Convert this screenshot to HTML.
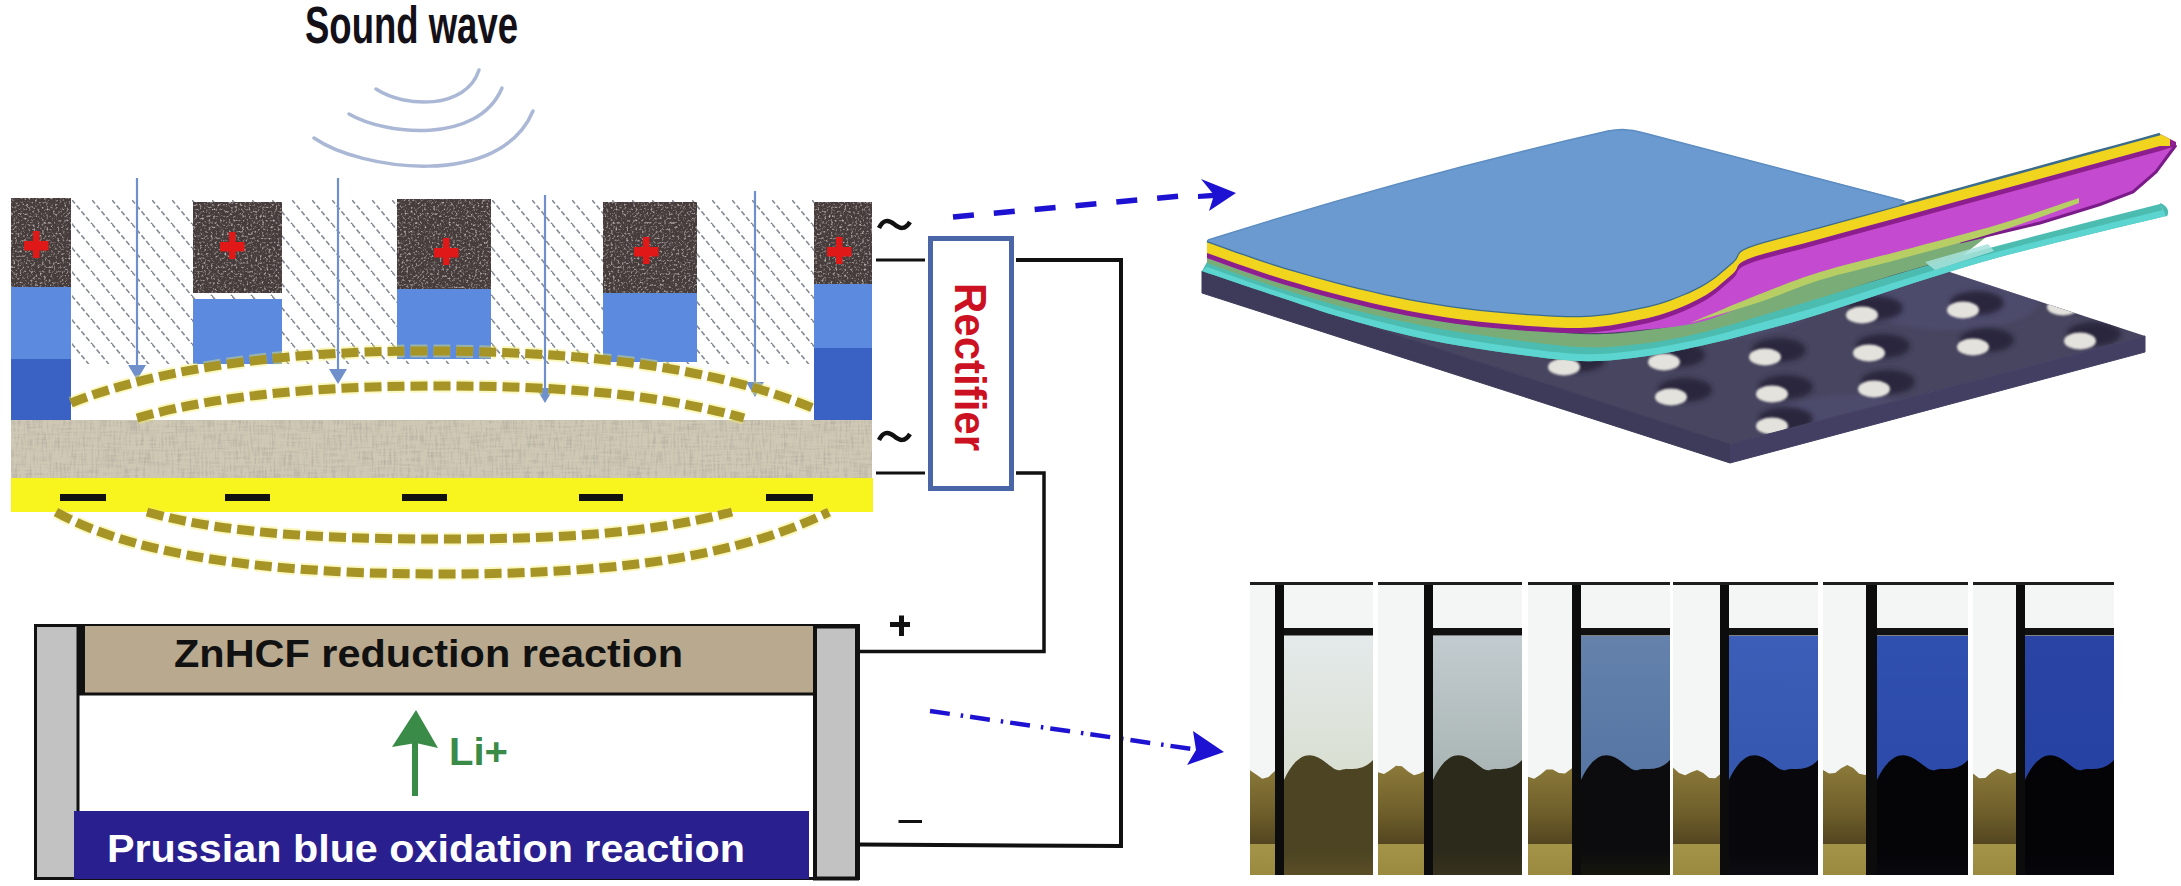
<!DOCTYPE html>
<html><head><meta charset="utf-8"><style>
html,body{margin:0;padding:0;background:#fff;}
body{width:2181px;height:886px;overflow:hidden;}
svg{display:block;}
</style></head><body>
<svg width="2181" height="886" viewBox="0 0 2181 886">
<defs>
<pattern id="hatch" patternUnits="userSpaceOnUse" width="20" height="24" patternTransform="translate(72,200)">
  <path d="M-5,-6 L25,30" stroke="#868c96" stroke-width="1.6" stroke-dasharray="5 2.5"/>
  <path d="M-25,-6 L5,30" stroke="#868c96" stroke-width="1.6" stroke-dasharray="5 2.5"/>
</pattern>
<filter id="fabn" x="0" y="0" width="100%" height="100%">
  <feTurbulence type="fractalNoise" baseFrequency="0.5 0.06" numOctaves="2" seed="11" result="v"/>
  <feTurbulence type="fractalNoise" baseFrequency="0.04 0.5" numOctaves="2" seed="5" result="h"/>
  <feComposite in="v" in2="h" operator="arithmetic" k1="0" k2="0.6" k3="0.4" k4="0" result="m"/>
  <feColorMatrix in="m" type="matrix" values="0 0 0 0 0.45  0 0 0 0 0.42  0 0 0 0 0.36  0 0 0 2.6 -1.15"/>
  <feComposite in2="SourceGraphic" operator="in"/>
</filter>
<filter id="noise" x="0" y="0" width="100%" height="100%">
  <feTurbulence type="fractalNoise" baseFrequency="0.45" numOctaves="2" seed="7" result="n"/>
  <feColorMatrix in="n" type="matrix" values="0 0 0 0 0.5  0 0 0 0 0.45  0 0 0 0 0.45  0 0 0 3.0 -1.55" result="c"/>
  <feComposite in="c" in2="SourceGraphic" operator="in"/>
</filter>
<filter id="soft"><feGaussianBlur stdDeviation="0.6"/></filter>
</defs>
<text x="305" y="43" font-family="Liberation Sans, sans-serif" font-weight="bold" font-size="51" fill="#141018" textLength="213" lengthAdjust="spacingAndGlyphs">Sound wave</text>
<path d="M376,89 C405,108 466,110 479,70" stroke="#aab8d6" stroke-width="3.5" fill="none" stroke-linecap="round" filter="url(#soft)"/>
<path d="M349,114 C385,135 478,145 502,88" stroke="#aab8d6" stroke-width="3.5" fill="none" stroke-linecap="round" filter="url(#soft)"/>
<path d="M314,138 C360,170 500,190 533,111" stroke="#aab8d6" stroke-width="3.5" fill="none" stroke-linecap="round" filter="url(#soft)"/>
<rect x="72" y="200" width="742" height="164" fill="url(#hatch)"/>
<rect x="11" y="198" width="60" height="89" fill="#463c3c"/>
<rect x="11" y="198" width="60" height="89" fill="#000" filter="url(#noise)"/>
<rect x="11" y="287" width="60" height="72" fill="#5c8ade"/>
<rect x="11" y="359" width="60" height="61" fill="#3a62c4"/>
<rect x="33" y="231" width="6.5" height="27" fill="#e01818"/>
<rect x="24" y="241" width="24.5" height="9.5" fill="#e01818"/>
<rect x="193" y="202" width="89" height="91" fill="#463c3c"/>
<rect x="193" y="202" width="89" height="91" fill="#000" filter="url(#noise)"/>
<rect x="193" y="299" width="89" height="65" fill="#5c8ade"/>
<rect x="229" y="232" width="6.5" height="27" fill="#e01818"/>
<rect x="220" y="242" width="24.5" height="9.5" fill="#e01818"/>
<rect x="397" y="199" width="94" height="90" fill="#463c3c"/>
<rect x="397" y="199" width="94" height="90" fill="#000" filter="url(#noise)"/>
<rect x="397" y="289" width="94" height="70" fill="#5c8ade"/>
<rect x="443" y="238" width="6.5" height="27" fill="#e01818"/>
<rect x="434" y="248" width="24.5" height="9.5" fill="#e01818"/>
<rect x="603" y="202" width="94" height="91" fill="#463c3c"/>
<rect x="603" y="202" width="94" height="91" fill="#000" filter="url(#noise)"/>
<rect x="603" y="293" width="94" height="69" fill="#5c8ade"/>
<rect x="643" y="237" width="6.5" height="27" fill="#e01818"/>
<rect x="634" y="247" width="24.5" height="9.5" fill="#e01818"/>
<rect x="814" y="202" width="58" height="82" fill="#463c3c"/>
<rect x="814" y="202" width="58" height="82" fill="#000" filter="url(#noise)"/>
<rect x="814" y="284" width="58" height="64" fill="#5c8ade"/>
<rect x="814" y="348" width="58" height="72" fill="#3a62c4"/>
<rect x="836" y="237" width="6.5" height="27" fill="#e01818"/>
<rect x="827" y="247" width="24.5" height="9.5" fill="#e01818"/>
<line x1="137" y1="178" x2="137" y2="368" stroke="#7090cc" stroke-width="2.2"/>
<path d="M128,365 L146,365 L137,380 Z" fill="#7090cc"/>
<line x1="338" y1="178" x2="338" y2="372" stroke="#7090cc" stroke-width="2.2"/>
<path d="M329,369 L347,369 L338,384 Z" fill="#7090cc"/>
<line x1="545" y1="195" x2="545" y2="391" stroke="#7090cc" stroke-width="2.2"/>
<path d="M536,388 L554,388 L545,403 Z" fill="#7090cc"/>
<line x1="755" y1="191" x2="755" y2="385" stroke="#7090cc" stroke-width="2.2"/>
<path d="M746,382 L764,382 L755,397 Z" fill="#7090cc"/>
<rect x="11" y="420" width="861" height="58" fill="#cfc8b4"/><rect x="11" y="420" width="861" height="58" fill="#000" filter="url(#fabn)"/>
<rect x="11" y="478" width="862" height="34" fill="#f8f41e"/>
<rect x="60" y="494" width="46" height="7" fill="#111"/>
<rect x="225" y="494" width="45" height="7" fill="#111"/>
<rect x="402" y="494" width="45" height="7" fill="#111"/>
<rect x="579" y="494" width="44" height="7" fill="#111"/>
<rect x="766" y="494" width="47" height="7" fill="#111"/>
<path d="M71,403 C180,360 330,350 440,351 C560,352 700,362 813,408" stroke="#f4ee60" stroke-width="13" fill="none" stroke-dasharray="17 6" opacity="0.4"/>
<path d="M71,403 C180,360 330,350 440,351 C560,352 700,362 813,408" stroke="#a69526" stroke-width="9" fill="none" stroke-dasharray="17 6"/>
<path d="M137,418 C230,392 340,386 440,386 C550,386 650,392 744,418" stroke="#f4ee60" stroke-width="13" fill="none" stroke-dasharray="17 6" opacity="0.4"/>
<path d="M137,418 C230,392 340,386 440,386 C550,386 650,392 744,418" stroke="#a69526" stroke-width="9" fill="none" stroke-dasharray="17 6"/>
<path d="M147,512 C230,536 350,539 440,539 C540,539 640,536 732,512" stroke="#f4ee60" stroke-width="13" fill="none" stroke-dasharray="17 6" opacity="0.4"/>
<path d="M147,512 C230,536 350,539 440,539 C540,539 640,536 732,512" stroke="#a69526" stroke-width="9" fill="none" stroke-dasharray="17 6"/>
<path d="M56,512 C150,565 320,574 440,574 C580,574 720,565 829,512" stroke="#f4ee60" stroke-width="13" fill="none" stroke-dasharray="17 6" opacity="0.4"/>
<path d="M56,512 C150,565 320,574 440,574 C580,574 720,565 829,512" stroke="#a69526" stroke-width="9" fill="none" stroke-dasharray="17 6"/>
<path d="M879,228 C883,220 888,219 894,224 C900,229 905,230 910,222" stroke="#111" stroke-width="4.5" fill="none"/>
<path d="M879,440 C883,432 888,431 894,436 C900,441 905,442 910,434" stroke="#111" stroke-width="4.5" fill="none"/>
<polyline points="876,260 925,260" stroke="#111" stroke-width="3" fill="none"/>
<polyline points="1016,260 1121,260 1121,846 860,844.5" stroke="#111" stroke-width="4" fill="none"/>
<polyline points="876,473 925,473" stroke="#111" stroke-width="3" fill="none"/>
<polyline points="1016,473 1044,473 1044,651.5 860,651.5" stroke="#111" stroke-width="3.5" fill="none"/>
<rect x="930.5" y="238.5" width="81" height="250" fill="#fff" stroke="#4a66a6" stroke-width="5"/>
<text font-family="Liberation Sans, sans-serif" font-weight="bold" font-size="44" fill="#cc1122" transform="translate(955,283) rotate(90)" textLength="168" lengthAdjust="spacingAndGlyphs">Rectifier</text>
<path d="M953,217 L1198,194.5" stroke="#1e12d2" stroke-width="5.5" fill="none" stroke-dasharray="21 20"/>
<path d="M1201,179 L1236,193 L1209,211 L1214,195 Z" fill="#1e12d2"/><path d="M1198,194 L1216,192.5 L1216,198 L1198,199 Z" fill="#1e12d2"/>
<path d="M930,711 L1192,749" stroke="#1e12d2" stroke-width="4.5" fill="none" stroke-dasharray="20 11 2.5 7"/>
<path d="M1193,731 L1224,752 L1187,765 L1196,750 Z" fill="#1e12d2"/>
<rect x="1119" y="690" width="4" height="80" fill="#111"/>
<rect x="35.5" y="625.5" width="823" height="253" fill="#fff" stroke="#111" stroke-width="3"/>
<rect x="37" y="627" width="41" height="250" fill="#c2c2c2"/>
<rect x="79" y="626" width="734" height="68" fill="#b9a98f"/>
<rect x="79" y="626" width="6" height="68" fill="#111"/>
<line x1="79" y1="694" x2="813" y2="694" stroke="#111" stroke-width="3"/>
<line x1="78" y1="626" x2="78" y2="811" stroke="#111" stroke-width="3"/>
<rect x="74" y="811" width="735" height="68" fill="#2a1f8e"/>
<rect x="815" y="626.5" width="42" height="252" fill="#c2c2c2" stroke="#111" stroke-width="4"/>
<text x="174" y="667" font-family="Liberation Sans, sans-serif" font-weight="bold" font-size="38" fill="#111" textLength="509" lengthAdjust="spacingAndGlyphs">ZnHCF reduction reaction</text>
<text x="107" y="862" font-family="Liberation Sans, sans-serif" font-weight="bold" font-size="39" fill="#fff" textLength="638" lengthAdjust="spacingAndGlyphs">Prussian blue oxidation reaction</text>
<rect x="412" y="740" width="6" height="56" fill="#3a8a48"/>
<path d="M416,710 L438,748 L416,743 L392,747 Z" fill="#3a8a48"/>
<text x="449" y="765" font-family="Liberation Sans, sans-serif" font-weight="bold" font-size="38" fill="#3a8a48" textLength="59" lengthAdjust="spacingAndGlyphs">Li+</text>
<rect x="890" y="622" width="20" height="5" fill="#111"/><rect x="899" y="615.5" width="5" height="20.5" fill="#111"/>
<rect x="898.5" y="820" width="23.5" height="3" fill="#111"/>
<defs><filter id="blur2" x="-30%" y="-30%" width="160%" height="160%"><feGaussianBlur stdDeviation="2.5"/></filter><filter id="blur1" x="-30%" y="-30%" width="160%" height="160%"><feGaussianBlur stdDeviation="1.2"/></filter><clipPath id="slabclip"><polygon points="1202,271 1730,444 2145,336 1617,163"/></clipPath></defs>
<polygon points="1202,271 1730,444 2145,336 1617,163" fill="#47455f"/>
<g clip-path="url(#slabclip)"><ellipse cx="1700" cy="300" rx="120" ry="40" fill="#55537a" opacity="0.5" filter="url(#blur2)"/><ellipse cx="1950" cy="300" rx="90" ry="30" fill="#55537a" opacity="0.5" filter="url(#blur2)"/><ellipse cx="1850" cy="420" rx="80" ry="25" fill="#55537a" opacity="0.5" filter="url(#blur2)"/><ellipse cx="1578" cy="360" rx="27" ry="12" fill="#2a283e" filter="url(#blur2)"/><ellipse cx="1678" cy="355" rx="27" ry="12" fill="#2a283e" filter="url(#blur2)"/><ellipse cx="1779" cy="350" rx="27" ry="12" fill="#2a283e" filter="url(#blur2)"/><ellipse cx="1883" cy="346" rx="27" ry="12" fill="#2a283e" filter="url(#blur2)"/><ellipse cx="1987" cy="340" rx="27" ry="12" fill="#2a283e" filter="url(#blur2)"/><ellipse cx="2094" cy="334" rx="27" ry="12" fill="#2a283e" filter="url(#blur2)"/><ellipse cx="1685" cy="390" rx="27" ry="12" fill="#2a283e" filter="url(#blur2)"/><ellipse cx="1786" cy="387" rx="27" ry="12" fill="#2a283e" filter="url(#blur2)"/><ellipse cx="1888" cy="382" rx="27" ry="12" fill="#2a283e" filter="url(#blur2)"/><ellipse cx="1786" cy="419" rx="27" ry="12" fill="#2a283e" filter="url(#blur2)"/><ellipse cx="1876" cy="308" rx="27" ry="12" fill="#2a283e" filter="url(#blur2)"/><ellipse cx="1977" cy="303" rx="27" ry="12" fill="#2a283e" filter="url(#blur2)"/><ellipse cx="2077" cy="300" rx="27" ry="12" fill="#2a283e" filter="url(#blur2)"/><ellipse cx="1564" cy="367" rx="16" ry="8.5" fill="#e4e2dc" filter="url(#blur1)"/><ellipse cx="1664" cy="362" rx="16" ry="8.5" fill="#e4e2dc" filter="url(#blur1)"/><ellipse cx="1765" cy="357" rx="16" ry="8.5" fill="#e4e2dc" filter="url(#blur1)"/><ellipse cx="1869" cy="353" rx="16" ry="8.5" fill="#e4e2dc" filter="url(#blur1)"/><ellipse cx="1973" cy="347" rx="16" ry="8.5" fill="#e4e2dc" filter="url(#blur1)"/><ellipse cx="2080" cy="341" rx="16" ry="8.5" fill="#e4e2dc" filter="url(#blur1)"/><ellipse cx="1671" cy="397" rx="16" ry="8.5" fill="#e4e2dc" filter="url(#blur1)"/><ellipse cx="1772" cy="394" rx="16" ry="8.5" fill="#e4e2dc" filter="url(#blur1)"/><ellipse cx="1874" cy="389" rx="16" ry="8.5" fill="#e4e2dc" filter="url(#blur1)"/><ellipse cx="1772" cy="426" rx="16" ry="8.5" fill="#e4e2dc" filter="url(#blur1)"/><ellipse cx="1862" cy="315" rx="16" ry="8.5" fill="#e4e2dc" filter="url(#blur1)"/><ellipse cx="1963" cy="310" rx="16" ry="8.5" fill="#e4e2dc" filter="url(#blur1)"/><ellipse cx="2063" cy="307" rx="16" ry="8.5" fill="#e4e2dc" filter="url(#blur1)"/></g>
<polygon points="1202,271 1730,444 1730,463 1202,293" fill="#3d3b59" stroke="#3d3b59" stroke-width="1"/>
<polygon points="1730,444 2145,336 2145,352 1730,463" fill="#423f62" stroke="#423f62" stroke-width="1"/>
<polygon points="1207.0,262.0 1212.0,263.8 1218.7,266.2 1226.6,269.0 1235.4,272.1 1244.8,275.4 1254.4,278.8 1263.9,282.0 1273.0,285.0 1281.9,287.8 1291.0,290.7 1300.2,293.5 1309.6,296.4 1319.0,299.2 1328.4,301.9 1337.7,304.5 1347.0,307.0 1356.2,309.4 1365.3,311.7 1374.4,314.0 1383.6,316.1 1392.7,318.2 1401.8,320.2 1410.9,322.1 1420.0,324.0 1429.0,325.8 1437.9,327.4 1446.8,329.0 1455.6,330.4 1464.6,331.9 1473.8,333.3 1483.2,334.6 1493.0,336.0 1503.4,337.4 1514.4,338.9 1525.8,340.5 1537.3,341.9 1548.7,343.3 1559.8,344.5 1570.3,345.4 1580.0,346.0 1588.8,346.3 1596.9,346.4 1604.5,346.2 1611.7,345.8 1618.7,345.3 1625.6,344.6 1632.7,343.8 1640.0,343.0 1647.5,342.0 1655.0,341.0 1662.5,339.7 1670.0,338.4 1677.5,336.9 1685.0,335.4 1692.5,333.7 1700.0,332.0 1707.5,330.2 1715.0,328.2 1722.5,326.1 1730.0,323.9 1737.5,321.7 1745.0,319.5 1752.5,317.2 1760.0,315.0 1766.8,313.0 1772.6,311.2 1778.0,309.6 1783.6,307.9 1790.0,305.9 1797.8,303.6 1807.6,300.6 1820.0,297.0 1835.3,292.5 1853.0,287.3 1872.6,281.5 1893.6,275.2 1915.6,268.8 1938.0,262.4 1960.3,256.0 1982.0,250.0 2004.7,243.9 2029.5,237.4 2055.4,230.7 2081.1,224.1 2105.6,217.8 2127.6,212.2 2146.2,207.5 2160,204 2166,216 2151.7,219.5 2132.4,224.1 2109.5,229.6 2084.1,235.8 2057.5,242.3 2030.8,249.0 2005.2,255.6 1982.0,262.0 1960.0,268.5 1937.6,275.4 1915.2,282.6 1893.2,289.8 1872.3,296.8 1852.8,303.3 1835.2,309.1 1820.0,314.0 1807.6,317.8 1797.8,320.8 1790.0,323.0 1783.6,324.8 1778.0,326.3 1772.6,327.7 1766.8,329.2 1760.0,331.0 1752.5,333.0 1745.0,335.0 1737.5,336.9 1730.0,338.9 1722.5,340.8 1715.0,342.6 1707.5,344.3 1700.0,346.0 1692.5,347.6 1685.0,349.2 1677.5,350.7 1670.0,352.2 1662.5,353.6 1655.0,354.8 1647.5,356.0 1640.0,357.0 1632.7,357.9 1625.6,358.8 1618.7,359.6 1611.7,360.3 1604.5,360.8 1596.9,361.1 1588.8,361.2 1580.0,361.0 1570.3,360.4 1559.8,359.6 1548.7,358.4 1537.3,357.1 1525.8,355.6 1514.4,354.0 1503.4,352.5 1493.0,351.0 1483.2,349.6 1473.8,348.1 1464.6,346.6 1455.6,345.1 1446.8,343.4 1437.9,341.7 1429.0,339.9 1420.0,338.0 1410.9,335.9 1401.8,333.8 1392.7,331.5 1383.6,329.2 1374.4,326.8 1365.3,324.2 1356.2,321.7 1347.0,319.0 1337.8,316.2 1328.5,313.4 1319.2,310.4 1309.9,307.3 1300.6,304.2 1291.3,301.1 1282.1,298.0 1273.0,295.0 1263.5,291.8 1253.4,288.4 1243.0,284.9 1232.9,281.5 1223.3,278.2 1214.7,275.3 1207.5,272.9 1202.0,271.0" fill="#4cbcb0" />
<polygon points="1207.0,267.0 1212.0,268.8 1218.7,271.1 1226.6,273.9 1235.4,277.1 1244.8,280.4 1254.4,283.7 1263.9,287.0 1273.0,290.0 1281.9,292.9 1291.0,295.9 1300.2,298.8 1309.6,301.8 1319.0,304.7 1328.4,307.6 1337.7,310.4 1347.0,313.0 1356.2,315.5 1365.3,318.0 1374.4,320.3 1383.6,322.6 1392.7,324.8 1401.8,327.0 1410.9,329.0 1420.0,331.0 1429.0,332.9 1437.9,334.7 1446.8,336.4 1455.6,338.0 1464.6,339.6 1473.8,341.1 1483.2,342.6 1493.0,344.0 1503.4,345.5 1514.4,347.0 1525.8,348.6 1537.3,350.1 1548.7,351.4 1559.8,352.6 1570.3,353.4 1580.0,354.0 1588.8,354.2 1596.9,354.1 1604.5,353.8 1611.7,353.3 1618.7,352.6 1625.6,351.8 1632.7,350.9 1640.0,350.0 1647.5,349.0 1655.0,347.9 1662.5,346.6 1670.0,345.2 1677.5,343.8 1685.0,342.3 1692.5,340.7 1700.0,339.0 1707.5,337.2 1715.0,335.4 1722.5,333.4 1730.0,331.4 1737.5,329.3 1745.0,327.2 1752.5,325.1 1760.0,323.0 1766.8,321.1 1772.6,319.6 1778.0,318.1 1783.6,316.6 1790.0,314.8 1797.8,312.6 1807.6,309.7 1820.0,306.0 1835.2,301.3 1852.9,295.7 1872.4,289.5 1893.4,282.8 1915.4,275.9 1937.8,269.0 1960.1,262.3 1982.0,256.0 2005.0,249.7 2030.2,243.1 2056.4,236.4 2082.6,229.9 2107.5,223.7 2130.0,218.2 2148.9,213.5 2163,210 2166,216 2151.7,219.5 2132.4,224.1 2109.5,229.6 2084.1,235.8 2057.5,242.3 2030.8,249.0 2005.2,255.6 1982.0,262.0 1960.0,268.5 1937.6,275.4 1915.2,282.6 1893.2,289.8 1872.3,296.8 1852.8,303.3 1835.2,309.1 1820.0,314.0 1807.6,317.8 1797.8,320.8 1790.0,323.0 1783.6,324.8 1778.0,326.3 1772.6,327.7 1766.8,329.2 1760.0,331.0 1752.5,333.0 1745.0,335.0 1737.5,336.9 1730.0,338.9 1722.5,340.8 1715.0,342.6 1707.5,344.3 1700.0,346.0 1692.5,347.6 1685.0,349.2 1677.5,350.7 1670.0,352.2 1662.5,353.6 1655.0,354.8 1647.5,356.0 1640.0,357.0 1632.7,357.9 1625.6,358.8 1618.7,359.6 1611.7,360.3 1604.5,360.8 1596.9,361.1 1588.8,361.2 1580.0,361.0 1570.3,360.4 1559.8,359.6 1548.7,358.4 1537.3,357.1 1525.8,355.6 1514.4,354.0 1503.4,352.5 1493.0,351.0 1483.2,349.6 1473.8,348.1 1464.6,346.6 1455.6,345.1 1446.8,343.4 1437.9,341.7 1429.0,339.9 1420.0,338.0 1410.9,335.9 1401.8,333.8 1392.7,331.5 1383.6,329.2 1374.4,326.8 1365.3,324.2 1356.2,321.7 1347.0,319.0 1337.8,316.2 1328.5,313.4 1319.2,310.4 1309.9,307.3 1300.6,304.2 1291.3,301.1 1282.1,298.0 1273.0,295.0 1263.5,291.8 1253.4,288.4 1243.0,284.9 1232.9,281.5 1223.3,278.2 1214.7,275.3 1207.5,272.9 1202.0,271.0" fill="#5cd4d0" />
<path d="M2160,204 Q2170,209 2166,216" fill="#4cbcb0" stroke="#4cbcb0" stroke-width="2"/>
<polygon points="1207.0,257.0 1212.0,258.8 1218.7,261.2 1226.6,264.1 1235.4,267.2 1244.8,270.6 1254.4,273.9 1263.9,277.1 1273.0,280.0 1281.9,282.7 1291.0,285.3 1300.2,287.9 1309.6,290.5 1319.0,293.0 1328.4,295.4 1337.7,297.8 1347.0,300.0 1356.2,302.1 1365.3,304.2 1374.4,306.2 1383.6,308.1 1392.7,310.0 1401.8,311.7 1410.9,313.4 1420.0,315.0 1429.0,316.5 1437.9,317.9 1446.8,319.2 1455.6,320.4 1464.6,321.5 1473.8,322.7 1483.2,323.8 1493.0,325.0 1503.4,326.3 1514.4,327.6 1525.8,329.0 1537.3,330.3 1548.7,331.5 1559.8,332.6 1570.3,333.5 1580.0,334.0 1588.8,334.3 1596.9,334.3 1604.5,334.1 1611.7,333.8 1618.7,333.2 1625.6,332.6 1632.7,331.8 1640.0,331.0 1647.5,330.1 1655.0,329.1 1662.5,327.9 1670.0,326.7 1677.5,325.3 1685.0,323.7 1692.5,322.0 1700.0,320.0 1707.5,317.8 1715.0,315.2 1722.5,312.5 1730.0,309.6 1737.5,306.7 1745.0,303.7 1752.5,300.8 1760.0,298.0 1767.4,295.3 1774.5,292.7 1781.6,290.1 1788.8,287.4 1796.0,284.8 1803.6,282.2 1811.5,279.6 1820.0,277.0 1829.0,274.4 1838.4,271.8 1848.1,269.2 1858.1,266.6 1868.4,263.9 1878.8,261.3 1889.4,258.7 1900.0,256.0 1911.4,253.1 1923.9,250.1 1937.0,246.9 1950.0,243.7 1962.4,240.7 1973.6,238.0 1983.0,235.7 1990,234 1962,256 1957.3,257.3 1951.3,258.9 1944.1,260.8 1936.0,262.9 1927.3,265.3 1918.2,267.8 1909.0,270.4 1900.0,273.0 1890.7,275.8 1880.8,278.9 1870.4,282.1 1859.9,285.4 1849.3,288.8 1839.0,292.1 1829.2,295.2 1820.0,298.0 1811.5,300.6 1803.6,303.0 1796.0,305.3 1788.8,307.5 1781.6,309.6 1774.5,311.7 1767.4,313.8 1760.0,316.0 1752.5,318.2 1745.0,320.5 1737.5,322.7 1730.0,324.9 1722.5,327.1 1715.0,329.2 1707.5,331.2 1700.0,333.0 1692.5,334.7 1685.0,336.4 1677.5,337.9 1670.0,339.4 1662.5,340.7 1655.0,342.0 1647.5,343.0 1640.0,344.0 1632.7,344.8 1625.6,345.6 1618.7,346.3 1611.7,346.8 1604.5,347.2 1596.9,347.4 1588.8,347.3 1580.0,347.0 1570.3,346.4 1559.8,345.5 1548.7,344.3 1537.3,342.9 1525.8,341.5 1514.4,339.9 1503.4,338.4 1493.0,337.0 1483.2,335.6 1473.8,334.3 1464.6,332.9 1455.6,331.4 1446.8,330.0 1437.9,328.4 1429.0,326.8 1420.0,325.0 1410.9,323.1 1401.8,321.2 1392.7,319.2 1383.6,317.1 1374.4,315.0 1365.3,312.7 1356.2,310.4 1347.0,308.0 1337.7,305.5 1328.4,302.9 1319.0,300.2 1309.6,297.4 1300.2,294.5 1291.0,291.7 1281.9,288.8 1273.0,286.0 1263.9,283.0 1254.4,279.8 1244.8,276.4 1235.4,273.1 1226.6,270.0 1218.7,267.2 1212.0,264.8 1207.0,263.0" fill="#7aac78" />
<polygon points="1925,262 1988,244 1994,251 1935,270" fill="#a6e2da" opacity="0.85"/>
<polygon points="1207.0,241.0 1214.1,243.5 1223.8,247.0 1235.4,251.2 1248.0,255.6 1260.8,260.0 1273.0,264.0 1284.9,267.7 1297.1,271.3 1309.6,274.9 1322.1,278.4 1334.6,281.8 1347.0,285.0 1359.2,288.0 1371.4,290.9 1383.6,293.7 1395.7,296.3 1407.8,298.7 1420.0,301.0 1432.0,303.1 1443.8,305.0 1455.6,306.7 1467.6,308.3 1480.0,309.7 1493.0,311.0 1507.1,312.3 1522.2,313.5 1537.7,314.6 1552.9,315.4 1567.2,315.9 1580.0,316.0 1591.1,315.6 1601.1,314.6 1610.2,313.4 1618.6,312.0 1626.4,310.5 1634.0,309.0 1641.0,307.6 1647.3,306.3 1653.1,304.8 1658.7,303.3 1664.2,301.5 1670.0,299.5 1676.1,297.2 1682.3,294.7 1688.6,292.0 1694.7,289.1 1700.5,286.1 1706.0,283.0 1711.2,279.6 1716.1,275.9 1720.8,272.1 1725.2,268.3 1729.3,264.7 1733.0,261.5 1735.5,258.7 1736.8,256.4 1737.7,254.2 1739.2,252.0 1742.3,249.7 1748.0,247.0 1755.6,244.3 1764.1,241.7 1774.3,239.0 1786.6,235.8 1801.7,231.9 1820.0,227.0 1842.7,220.8 1869.4,213.5 1898.9,205.4 1929.7,197.0 1960.5,188.6 1990.0,180.5 2020.3,172.2 2053.0,163.3 2085.6,154.3 2115.9,146.1 2141.5,139.1 2160,134 2176,145 2175.6,145.5 2175.1,146.2 2174.5,146.9 2173.9,147.8 2173.1,148.8 2172.2,150.0 2171.2,151.4 2170.0,153.0 2168.7,154.8 2167.3,157.0 2165.7,159.3 2164.1,161.8 2162.3,164.3 2160.3,166.9 2158.2,169.5 2156.0,172.0 2153.6,174.5 2151.1,177.1 2148.5,179.8 2145.7,182.4 2142.8,185.0 2139.7,187.5 2136.4,189.9 2133.0,192.0 2129.3,194.0 2125.2,195.8 2120.8,197.5 2116.4,199.1 2111.9,200.6 2107.6,202.0 2103.6,203.3 2100.0,204.5 2096.9,205.6 2094.3,206.4 2092.0,207.1 2089.9,207.8 2087.7,208.4 2085.2,209.1 2082.4,210.0 2079.0,211.0 2075.1,212.2 2071.0,213.6 2066.5,215.0 2061.8,216.5 2056.8,218.1 2051.5,219.7 2045.9,221.4 2040.0,223.0 2033.8,224.6 2027.4,226.2 2020.7,227.8 2013.7,229.4 2006.3,231.1 1998.6,233.0 1990.5,234.9 1982.0,237.0 1972.9,239.3 1963.1,241.8 1952.9,244.4 1942.4,247.1 1931.7,249.8 1920.9,252.6 1910.3,255.3 1900.0,258.0 1889.8,260.6 1879.4,263.2 1869.0,265.9 1858.6,268.5 1848.4,271.1 1838.5,273.8 1829.0,276.4 1820.0,279.0 1811.5,281.6 1803.6,284.2 1796.0,286.8 1788.8,289.4 1781.6,292.1 1774.5,294.7 1767.4,297.3 1760.0,300.0 1752.5,302.8 1745.0,305.8 1737.5,308.8 1730.0,311.8 1722.5,314.7 1715.0,317.5 1707.5,319.9 1700.0,322.0 1692.5,323.7 1685.0,325.1 1677.5,326.2 1670.0,327.2 1662.5,328.0 1655.0,328.7 1647.5,329.3 1640.0,330.0 1632.7,330.7 1625.6,331.4 1618.7,332.0 1611.7,332.5 1604.5,332.9 1596.9,333.1 1588.8,333.2 1580.0,333.0 1570.3,332.5 1559.8,331.8 1548.7,330.9 1537.3,329.8 1525.8,328.6 1514.4,327.4 1503.4,326.2 1493.0,325.0 1483.2,323.9 1473.8,322.8 1464.6,321.6 1455.6,320.4 1446.8,319.2 1437.9,317.9 1429.0,316.5 1420.0,315.0 1410.9,313.4 1401.8,311.7 1392.7,309.9 1383.6,308.1 1374.4,306.1 1365.3,304.1 1356.2,302.1 1347.0,300.0 1337.7,297.8 1328.4,295.6 1319.0,293.3 1309.6,291.0 1300.2,288.6 1291.0,286.1 1281.9,283.6 1273.0,281.0 1263.9,278.2 1254.4,275.0 1244.8,271.7 1235.4,268.3 1226.6,265.1 1218.7,262.2 1212.0,259.8 1207.0,258.0" fill="#c44ad0" />
<polyline points="1960,242 2040,223 2079,211 2100,204.5 2133,192 2156,172 2170,153 2176,145" fill="none" stroke="#7a1c88" stroke-width="3"/>
<polygon points="1690.0,323.0 1695.5,320.7 1702.8,317.6 1711.6,313.9 1721.2,309.9 1731.4,305.6 1741.6,301.4 1751.2,297.5 1760.0,294.0 1767.8,290.9 1775.2,288.0 1782.4,285.2 1789.4,282.5 1796.5,279.9 1803.8,277.3 1811.6,274.7 1820.0,272.0 1828.9,269.4 1838.1,266.8 1847.7,264.3 1857.5,261.8 1867.7,259.3 1878.1,256.6 1888.9,253.9 1900.0,251.0 1911.7,247.9 1924.1,244.6 1937.0,241.3 1950.1,237.8 1963.2,234.3 1976.0,230.8 1988.4,227.4 2000.0,224.0 2011.4,220.5 2023.1,216.8 2034.6,213.0 2045.8,209.3 2056.1,205.8 2065.3,202.6 2073.0,200.0 2079,198 2079,203 2073.0,205.2 2065.3,208.0 2056.1,211.4 2045.8,215.2 2034.6,219.3 2023.1,223.3 2011.4,227.3 2000.0,231.0 1988.4,234.5 1976.0,238.2 1963.2,241.8 1950.1,245.4 1937.0,249.0 1924.1,252.5 1911.7,255.8 1900.0,259.0 1888.9,262.0 1878.1,264.7 1867.7,267.3 1857.5,269.9 1847.7,272.4 1838.1,274.8 1828.9,277.4 1820.0,280.0 1811.6,282.7 1803.8,285.5 1796.5,288.2 1789.4,291.0 1782.4,293.8 1775.2,296.5 1767.8,299.3 1760.0,302.0 1751.2,304.8 1741.6,307.8 1731.4,310.9 1721.2,313.9 1711.6,316.7 1702.8,319.2 1695.5,321.4 1690.0,323.0" fill="#b6ce64" />
<polygon points="1207.0,241.0 1214.1,243.5 1223.8,247.0 1235.4,251.2 1248.0,255.6 1260.8,260.0 1273.0,264.0 1284.9,267.7 1297.1,271.3 1309.6,274.9 1322.1,278.4 1334.6,281.8 1347.0,285.0 1359.2,288.0 1371.4,290.9 1383.6,293.7 1395.7,296.3 1407.8,298.7 1420.0,301.0 1432.0,303.1 1443.8,305.0 1455.6,306.7 1467.6,308.3 1480.0,309.7 1493.0,311.0 1507.1,312.3 1522.2,313.5 1537.7,314.6 1552.9,315.4 1567.2,315.9 1580.0,316.0 1591.1,315.6 1601.1,314.6 1610.2,313.4 1618.6,312.0 1626.4,310.5 1634.0,309.0 1641.0,307.6 1647.3,306.3 1653.1,304.8 1658.7,303.3 1664.2,301.5 1670.0,299.5 1676.1,297.2 1682.3,294.7 1688.6,292.0 1694.7,289.1 1700.5,286.1 1706.0,283.0 1711.2,279.6 1716.1,275.9 1720.8,272.1 1725.2,268.3 1729.3,264.7 1733.0,261.5 1735.5,258.7 1736.8,256.4 1737.7,254.2 1739.2,252.0 1742.3,249.7 1748.0,247.0 1755.6,244.3 1764.1,241.7 1774.3,239.0 1786.6,235.8 1801.7,231.9 1820.0,227.0 1842.7,220.8 1869.4,213.5 1898.9,205.4 1929.7,197.0 1960.5,188.6 1990.0,180.5 2020.3,172.2 2053.0,163.3 2085.6,154.3 2115.9,146.1 2141.5,139.1 2160,134 2160,151 2141.5,156.1 2115.9,163.1 2085.6,171.3 2053.0,180.3 2020.3,189.2 1990.0,197.5 1960.5,205.6 1929.7,214.0 1898.9,222.4 1869.4,230.5 1842.7,237.8 1820.0,244.0 1801.7,248.9 1786.6,252.8 1774.3,256.0 1764.1,258.7 1755.6,261.3 1748.0,264.0 1742.3,266.7 1739.2,269.0 1737.7,271.2 1736.8,273.4 1735.5,275.7 1733.0,278.5 1729.3,281.7 1725.2,285.3 1720.8,289.1 1716.1,292.9 1711.2,296.6 1706.0,300.0 1700.5,303.1 1694.7,306.1 1688.6,309.0 1682.3,311.7 1676.1,314.2 1670.0,316.5 1664.2,318.5 1658.7,320.3 1653.1,321.8 1647.3,323.3 1641.0,324.6 1634.0,326.0 1626.4,327.5 1618.6,329.0 1610.2,330.4 1601.1,331.6 1591.1,332.6 1580.0,333.0 1567.2,332.9 1552.9,332.4 1537.7,331.6 1522.2,330.5 1507.1,329.3 1493.0,328.0 1480.0,326.7 1467.6,325.3 1455.6,323.7 1443.8,322.0 1432.0,320.1 1420.0,318.0 1407.8,315.7 1395.7,313.3 1383.6,310.7 1371.4,307.9 1359.2,305.0 1347.0,302.0 1334.6,298.8 1322.1,295.4 1309.6,291.9 1297.1,288.3 1284.9,284.7 1273.0,281.0 1260.8,277.0 1248.0,272.6 1235.4,268.2 1223.8,264.0 1214.1,260.5 1207.0,258.0" fill="#8c1e8e" />
<polygon points="1207.0,241.0 1214.1,243.5 1223.8,247.0 1235.4,251.2 1248.0,255.6 1260.8,260.0 1273.0,264.0 1284.9,267.7 1297.1,271.3 1309.6,274.9 1322.1,278.4 1334.6,281.8 1347.0,285.0 1359.2,288.0 1371.4,290.9 1383.6,293.7 1395.7,296.3 1407.8,298.7 1420.0,301.0 1432.0,303.1 1443.8,305.0 1455.6,306.7 1467.6,308.3 1480.0,309.7 1493.0,311.0 1507.1,312.3 1522.2,313.5 1537.7,314.6 1552.9,315.4 1567.2,315.9 1580.0,316.0 1591.1,315.6 1601.1,314.6 1610.2,313.4 1618.6,312.0 1626.4,310.5 1634.0,309.0 1641.0,307.6 1647.3,306.3 1653.1,304.8 1658.7,303.3 1664.2,301.5 1670.0,299.5 1676.1,297.2 1682.3,294.7 1688.6,292.0 1694.7,289.1 1700.5,286.1 1706.0,283.0 1711.2,279.6 1716.1,275.9 1720.8,272.1 1725.2,268.3 1729.3,264.7 1733.0,261.5 1735.5,258.7 1736.8,256.4 1737.7,254.2 1739.2,252.0 1742.3,249.7 1748.0,247.0 1755.6,244.3 1764.1,241.7 1774.3,239.0 1786.6,235.8 1801.7,231.9 1820.0,227.0 1842.7,220.8 1869.4,213.5 1898.9,205.4 1929.7,197.0 1960.5,188.6 1990.0,180.5 2020.3,172.2 2053.0,163.3 2085.6,154.3 2115.9,146.1 2141.5,139.1 2160,134 2160,146 2141.5,151.1 2115.9,158.1 2085.6,166.3 2053.0,175.3 2020.3,184.2 1990.0,192.5 1960.5,200.6 1929.7,209.0 1898.9,217.4 1869.4,225.5 1842.7,232.8 1820.0,239.0 1801.7,243.9 1786.6,247.8 1774.3,251.0 1764.1,253.7 1755.6,256.3 1748.0,259.0 1742.3,261.7 1739.2,264.0 1737.7,266.2 1736.8,268.4 1735.5,270.7 1733.0,273.5 1729.3,276.7 1725.2,280.3 1720.8,284.1 1716.1,287.9 1711.2,291.6 1706.0,295.0 1700.5,298.1 1694.7,301.1 1688.6,304.0 1682.3,306.7 1676.1,309.2 1670.0,311.5 1664.2,313.5 1658.7,315.3 1653.1,316.8 1647.3,318.3 1641.0,319.6 1634.0,321.0 1626.4,322.5 1618.6,324.0 1610.2,325.4 1601.1,326.6 1591.1,327.6 1580.0,328.0 1567.2,327.9 1552.9,327.4 1537.7,326.6 1522.2,325.5 1507.1,324.3 1493.0,323.0 1480.0,321.7 1467.6,320.3 1455.6,318.7 1443.8,317.0 1432.0,315.1 1420.0,313.0 1407.8,310.7 1395.7,308.3 1383.6,305.7 1371.4,302.9 1359.2,300.0 1347.0,297.0 1334.6,293.8 1322.1,290.4 1309.6,286.9 1297.1,283.3 1284.9,279.7 1273.0,276.0 1260.8,272.0 1248.0,267.6 1235.4,263.2 1223.8,259.0 1214.1,255.5 1207.0,253.0" fill="#f0d41e" />
<polygon points="2160,134 2176,142 2176,146 2160,151" fill="#8c1e8e"/>
<polygon points="2160,134 2170,139 2170,146 2160,146" fill="#f0d41e"/>
<polyline points="1207.0,241.0 1214.1,243.5 1223.8,247.0 1235.4,251.2 1248.0,255.6 1260.8,260.0 1273.0,264.0 1284.9,267.7 1297.1,271.3 1309.6,274.9 1322.1,278.4 1334.6,281.8 1347.0,285.0 1359.2,288.0 1371.4,290.9 1383.6,293.7 1395.7,296.3 1407.8,298.7 1420.0,301.0 1432.0,303.1 1443.8,305.0 1455.6,306.7 1467.6,308.3 1480.0,309.7 1493.0,311.0 1507.1,312.3 1522.2,313.5 1537.7,314.6 1552.9,315.4 1567.2,315.9 1580.0,316.0 1591.1,315.6 1601.1,314.6 1610.2,313.4 1618.6,312.0 1626.4,310.5 1634.0,309.0 1641.0,307.6 1647.3,306.3 1653.1,304.8 1658.7,303.3 1664.2,301.5 1670.0,299.5 1676.1,297.2 1682.3,294.7 1688.6,292.0 1694.7,289.1 1700.5,286.1 1706.0,283.0 1711.2,279.6 1716.1,275.9 1720.8,272.1 1725.2,268.3 1729.3,264.7 1733.0,261.5 1735.5,258.7 1736.8,256.4 1737.7,254.2 1739.2,252.0 1742.3,249.7 1748.0,247.0 1755.6,244.3 1764.1,241.7 1774.3,239.0 1786.6,235.8 1801.7,231.9 1820.0,227.0 1842.7,220.8 1869.4,213.5 1898.9,205.4 1929.7,197.0 1960.5,188.6 1990.0,180.5 2020.3,172.2 2053.0,163.3 2085.6,154.3 2115.9,146.1 2141.5,139.1 2160,134" fill="none" stroke="#3c6c8c" stroke-width="2.5"/>
<path d="M1898.9,205.4 L1869.4,213.5 L1842.7,220.8 L1820.0,227.0 L1801.7,231.9 L1786.6,235.8 L1774.3,239.0 L1764.1,241.7 L1755.6,244.3 L1748.0,247.0 L1742.3,249.7 L1739.2,252.0 L1737.7,254.2 L1736.8,256.4 L1735.5,258.7 L1733.0,261.5 L1729.3,264.7 L1725.2,268.3 L1720.8,272.1 L1716.1,275.9 L1711.2,279.6 L1706.0,283.0 L1700.5,286.1 L1694.7,289.1 L1688.6,292.0 L1682.3,294.7 L1676.1,297.2 L1670.0,299.5 L1664.2,301.5 L1658.7,303.3 L1653.1,304.8 L1647.3,306.3 L1641.0,307.6 L1634.0,309.0 L1626.4,310.5 L1618.6,312.0 L1610.2,313.4 L1601.1,314.6 L1591.1,315.6 L1580.0,316.0 L1567.2,315.9 L1552.9,315.4 L1537.7,314.6 L1522.2,313.5 L1507.1,312.3 L1493.0,311.0 L1480.0,309.7 L1467.6,308.3 L1455.6,306.7 L1443.8,305.0 L1432.0,303.1 L1420.0,301.0 L1407.8,298.7 L1395.7,296.3 L1383.6,293.7 L1371.4,290.9 L1359.2,288.0 L1347.0,285.0 L1334.6,281.8 L1322.1,278.4 L1309.6,274.9 L1297.1,271.3 L1284.9,267.7 L1273.0,264.0 L1260.8,260.0 L1248.0,255.6 L1235.4,251.2 L1223.8,247.0 L1214.1,243.5 L1207.0,241.0 L1208,240 Q1410,176 1608,131 Q1626,127 1644,133 L1906,201 Z" fill="#6a9ad0"/>
<path d="M1208,240 Q1410,176 1608,131 Q1626,127 1644,133 L1904,201" fill="none" stroke="#5c8cc0" stroke-width="1.5"/>
<defs><linearGradient id="exttree" x1="0" y1="0" x2="0" y2="1"><stop offset="0" stop-color="#8c7a3a"/><stop offset="0.6" stop-color="#6e5e2a"/><stop offset="1" stop-color="#524420"/></linearGradient><linearGradient id="extground" x1="0" y1="0" x2="0" y2="1"><stop offset="0" stop-color="#a49448"/><stop offset="1" stop-color="#9a8a40"/></linearGradient>
<linearGradient id="gl0" x1="0" y1="0" x2="0" y2="1"><stop offset="0" stop-color="#e4eaea"/><stop offset="1" stop-color="#d2d6c0"/></linearGradient>
<linearGradient id="tr0" x1="0" y1="0" x2="0" y2="1"><stop offset="0" stop-color="#4c4422"/><stop offset="0.8" stop-color="#4c4422"/><stop offset="1" stop-color="#5a4e26"/></linearGradient>
<linearGradient id="gl1" x1="0" y1="0" x2="0" y2="1"><stop offset="0" stop-color="#c2ccd0"/><stop offset="1" stop-color="#98a4a0"/></linearGradient>
<linearGradient id="tr1" x1="0" y1="0" x2="0" y2="1"><stop offset="0" stop-color="#2c2a1a"/><stop offset="0.8" stop-color="#2c2a1a"/><stop offset="1" stop-color="#38321e"/></linearGradient>
<linearGradient id="gl2" x1="0" y1="0" x2="0" y2="1"><stop offset="0" stop-color="#6482ac"/><stop offset="1" stop-color="#4c6c9c"/></linearGradient>
<linearGradient id="tr2" x1="0" y1="0" x2="0" y2="1"><stop offset="0" stop-color="#0c0c0e"/><stop offset="0.8" stop-color="#0c0c0e"/><stop offset="1" stop-color="#16160e"/></linearGradient>
<linearGradient id="gl3" x1="0" y1="0" x2="0" y2="1"><stop offset="0" stop-color="#3c5eb8"/><stop offset="1" stop-color="#3252a8"/></linearGradient>
<linearGradient id="tr3" x1="0" y1="0" x2="0" y2="1"><stop offset="0" stop-color="#07070c"/><stop offset="0.8" stop-color="#07070c"/><stop offset="1" stop-color="#0c0c12"/></linearGradient>
<linearGradient id="gl4" x1="0" y1="0" x2="0" y2="1"><stop offset="0" stop-color="#3050b0"/><stop offset="1" stop-color="#2846a6"/></linearGradient>
<linearGradient id="tr4" x1="0" y1="0" x2="0" y2="1"><stop offset="0" stop-color="#050508"/><stop offset="0.8" stop-color="#050508"/><stop offset="1" stop-color="#08080e"/></linearGradient>
<linearGradient id="gl5" x1="0" y1="0" x2="0" y2="1"><stop offset="0" stop-color="#2a44a6"/><stop offset="1" stop-color="#22409e"/></linearGradient>
<linearGradient id="tr5" x1="0" y1="0" x2="0" y2="1"><stop offset="0" stop-color="#040406"/><stop offset="0.8" stop-color="#040406"/><stop offset="1" stop-color="#06060c"/></linearGradient>
</defs>
<rect x="1250" y="585" width="123" height="290" fill="#f3f6f5"/>
<polygon points="1250,845 1250.0,770.3 1256.2,774.5 1262.3,778.7 1268.5,777.0 1274.6,771.3 1280.8,768.7 1286.9,771.5 1293.0,774.0 1299.2,771.1 1305.3,766.1 1311.5,765.8 1317.7,771.0 1323.8,775.2 1330.0,773.7 1336.1,770.3 1342.2,771.5 1348.4,776.6 1354.5,778.8 1360.7,774.8 1366.8,769.5 1373.0,769.4 1373,845" fill="url(#exttree)"/>
<rect x="1250" y="844" width="123" height="31" fill="url(#extground)"/>
<rect x="1284" y="636" width="89" height="239" fill="url(#gl0)"/>
<path d="M1284,780 C1291.12,764 1301.8,752 1314.26,756 C1326.72,760 1332.95,772 1340.96,770 C1349.86,767 1360.54,773 1373,760 L1373,875 L1284,875 Z" fill="url(#tr0)"/>
<rect x="1275" y="583" width="9" height="292" fill="#0c0c0c"/>
<rect x="1284" y="628" width="89" height="7.5" fill="#111"/>
<rect x="1250" y="582" width="123" height="3" fill="#1e1e1e"/>
<rect x="1378" y="585" width="144" height="290" fill="#f3f6f5"/>
<polygon points="1378,845 1378.0,772.3 1384.0,773.9 1390.0,770.3 1396.0,765.7 1402.0,766.2 1408.0,771.6 1414.0,775.2 1420.0,773.5 1426.0,770.3 1432.0,771.5 1438.0,776.5 1444.0,778.9 1450.0,775.2 1456.0,769.9 1462.0,769.1 1468.0,772.4 1474.0,773.8 1480.0,770.0 1486.0,765.6 1492.0,766.4 1498.0,771.8 1504.0,775.3 1510.0,773.4 1516.0,770.2 1522.0,771.6 1522,845" fill="url(#exttree)"/>
<rect x="1378" y="844" width="144" height="31" fill="url(#extground)"/>
<rect x="1433" y="636" width="89" height="239" fill="url(#gl1)"/>
<path d="M1433,780 C1440.12,764 1450.8,752 1463.26,756 C1475.72,760 1481.95,772 1489.96,770 C1498.86,767 1509.54,773 1522,760 L1522,875 L1433,875 Z" fill="url(#tr1)"/>
<rect x="1424" y="583" width="9" height="292" fill="#0c0c0c"/>
<rect x="1433" y="628" width="89" height="7.5" fill="#111"/>
<rect x="1378" y="582" width="144" height="3" fill="#1e1e1e"/>
<rect x="1528" y="585" width="142" height="290" fill="#f3f6f5"/>
<polygon points="1528,845 1528.0,776.7 1534.2,778.8 1540.3,774.7 1546.5,769.5 1552.7,769.5 1558.9,773.0 1565.0,773.4 1571.2,768.7 1577.4,765.1 1583.6,767.8 1589.7,773.5 1595.9,775.1 1602.1,771.9 1608.3,770.1 1614.4,773.8 1620.6,778.4 1626.8,777.5 1633.0,771.9 1639.1,768.7 1645.3,771.1 1651.5,773.9 1657.7,771.6 1663.8,766.5 1670.0,765.6 1670,845" fill="url(#exttree)"/>
<rect x="1528" y="844" width="142" height="31" fill="url(#extground)"/>
<rect x="1581" y="636" width="89" height="239" fill="url(#gl2)"/>
<path d="M1581,780 C1588.12,764 1598.8,752 1611.26,756 C1623.72,760 1629.95,772 1637.96,770 C1646.86,767 1657.54,773 1670,760 L1670,875 L1581,875 Z" fill="url(#tr2)"/>
<rect x="1572" y="583" width="9" height="292" fill="#0c0c0c"/>
<rect x="1581" y="628" width="89" height="7.5" fill="#111"/>
<rect x="1528" y="582" width="142" height="3" fill="#1e1e1e"/>
<rect x="1673" y="585" width="145" height="290" fill="#f3f6f5"/>
<polygon points="1673,845 1673.0,767.5 1679.0,773.1 1685.1,775.2 1691.1,772.3 1697.2,770.0 1703.2,772.9 1709.2,777.9 1715.3,778.3 1721.3,773.2 1727.4,768.9 1733.4,770.1 1739.5,773.5 1745.5,772.9 1751.5,768.0 1757.6,765.1 1763.6,768.3 1769.7,773.8 1775.7,775.1 1781.8,771.8 1787.8,770.1 1793.8,773.7 1799.9,778.3 1805.9,777.8 1812.0,772.4 1818.0,768.7 1818,845" fill="url(#exttree)"/>
<rect x="1673" y="844" width="145" height="31" fill="url(#extground)"/>
<rect x="1729" y="636" width="89" height="239" fill="url(#gl3)"/>
<path d="M1729,780 C1736.12,764 1746.8,752 1759.26,756 C1771.72,760 1777.95,772 1785.96,770 C1794.86,767 1805.54,773 1818,760 L1818,875 L1729,875 Z" fill="url(#tr3)"/>
<rect x="1720" y="583" width="9" height="292" fill="#0c0c0c"/>
<rect x="1729" y="628" width="89" height="7.5" fill="#111"/>
<rect x="1673" y="582" width="145" height="3" fill="#1e1e1e"/>
<rect x="1823" y="585" width="145" height="290" fill="#f3f6f5"/>
<polygon points="1823,845 1823.0,770.0 1829.0,773.4 1835.1,773.0 1841.1,768.2 1847.2,765.1 1853.2,768.1 1859.2,773.7 1865.3,775.1 1871.3,771.9 1877.4,770.1 1883.4,773.5 1889.5,778.2 1895.5,777.9 1901.5,772.5 1907.6,768.8 1913.6,770.5 1919.7,773.7 1925.7,772.5 1931.8,767.5 1937.8,765.1 1943.8,768.9 1949.9,774.2 1955.9,774.8 1962.0,771.4 1968.0,770.3 1968,845" fill="url(#exttree)"/>
<rect x="1823" y="844" width="145" height="31" fill="url(#extground)"/>
<rect x="1877" y="636" width="91" height="239" fill="url(#gl4)"/>
<path d="M1877,780 C1884.28,764 1895.2,752 1907.94,756 C1920.68,760 1927.05,772 1935.24,770 C1944.34,767 1955.26,773 1968,760 L1968,875 L1877,875 Z" fill="url(#tr4)"/>
<rect x="1866" y="583" width="11" height="292" fill="#0c0c0c"/>
<rect x="1877" y="628" width="91" height="7.5" fill="#111"/>
<rect x="1823" y="582" width="145" height="3" fill="#1e1e1e"/>
<rect x="1973" y="585" width="141" height="290" fill="#f3f6f5"/>
<polygon points="1973,845 1973.0,773.4 1979.1,778.2 1985.3,777.9 1991.4,772.5 1997.5,768.7 2003.7,770.6 2009.8,773.8 2015.9,772.2 2022.0,767.0 2028.2,765.3 2034.3,769.6 2040.4,774.7 2046.6,774.5 2052.7,770.9 2058.8,770.7 2065.0,775.3 2071.1,778.9 2077.2,776.2 2083.3,770.6 2089.5,768.8 2095.6,772.0 2101.7,773.9 2107.9,770.4 2114.0,765.7 2114,845" fill="url(#exttree)"/>
<rect x="1973" y="844" width="141" height="31" fill="url(#extground)"/>
<rect x="2025" y="636" width="89" height="239" fill="url(#gl5)"/>
<path d="M2025,780 C2032.12,764 2042.8,752 2055.26,756 C2067.72,760 2073.95,772 2081.96,770 C2090.86,767 2101.54,773 2114,760 L2114,875 L2025,875 Z" fill="url(#tr5)"/>
<rect x="2016" y="583" width="9" height="292" fill="#0c0c0c"/>
<rect x="2025" y="628" width="89" height="7.5" fill="#111"/>
<rect x="1973" y="582" width="141" height="3" fill="#1e1e1e"/>
</svg>
</body></html>
